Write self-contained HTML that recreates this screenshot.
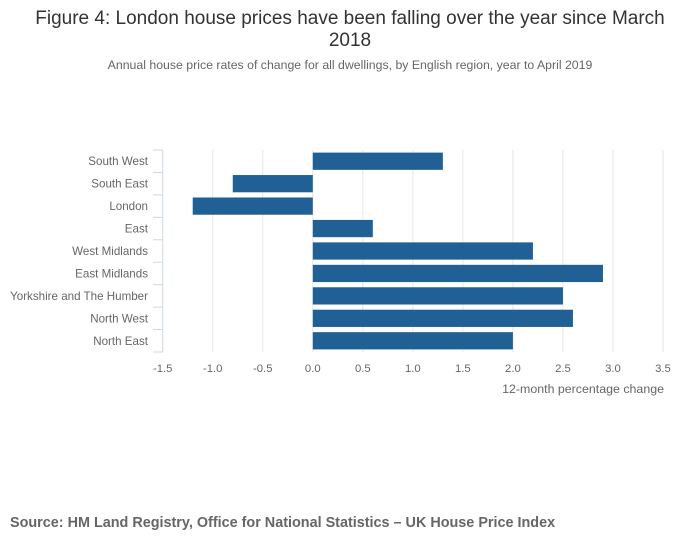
<!DOCTYPE html>
<html><head><meta charset="utf-8"><style>
body{margin:0;background:#fff;width:700px;height:549px;overflow:hidden;font-family:"Liberation Sans",sans-serif}
</style></head><body>
<svg width="700" height="549" id="c" style="font-family:'Liberation Sans',sans-serif">
<text x="350" y="24" text-anchor="middle" font-size="19" fill="#333">Figure 4: London house prices have been falling over the year since March</text>
<text x="350" y="46" text-anchor="middle" font-size="19" fill="#333">2018</text>
<text x="350" y="69" text-anchor="middle" font-size="12.3" fill="#666">Annual house price rates of change for all dwellings, by English region, year to April 2019</text>
<g id="grid"></g><g id="bars"></g><g id="axes"></g>
<text x="664" y="393" text-anchor="end" font-size="12.4" fill="#666">12-month percentage change</text>
<text x="10" y="527" font-size="14.4" font-weight="bold" fill="#666">Source: HM Land Registry, Office for National Statistics – UK House Price Index</text>
</svg>
<script>
const categories=["South West","South East","London","East","West Midlands","East Midlands","Yorkshire and The Humber","North West","North East"];
const values=[1.3,-0.8,-1.2,0.6,2.2,2.9,2.5,2.6,2.0];
const ticks=[-1.5,-1.0,-0.5,0.0,0.5,1.0,1.5,2.0,2.5,3.0,3.5];
const NS="http://www.w3.org/2000/svg";
const x0=162.7,x1=663,plotTop=150,plotBot=352;
const xs=v=>x0+(v-ticks[0])/(ticks[ticks.length-1]-ticks[0])*(x1-x0);
const band=(plotBot-plotTop)/categories.length;
function mk(t,a,p){const e=document.createElementNS(NS,t);for(const k in a)e.setAttribute(k,a[k]);p.appendChild(e);return e;}
const g=document.getElementById('grid'),b=document.getElementById('bars'),ax=document.getElementById('axes');
ticks.forEach((t,i)=>{
 if(i>0){const l=mk('line',{x1:xs(t),x2:xs(t),y1:plotTop,y2:plotBot,stroke:'#e6e6e6','stroke-width':1},g);
 
 }
 const tx=mk('text',{x:xs(t),y:372,'text-anchor':'middle','font-size':11.3,fill:'#666'},ax);
 tx.textContent=t.toFixed(1);
 
 
});
categories.forEach((c,i)=>{
 const v=values[i];
 const r=mk('rect',{x:Math.min(xs(0),xs(v)),y:plotTop+i*band+2.6,width:Math.abs(xs(v)-xs(0)),height:band-5.2,fill:'#206095'},b);
 
 
 const t=mk('text',{x:148,y:plotTop+i*band+band/2+4,'text-anchor':'end','font-size':11.6,fill:'#666'},ax);
 t.textContent=c;
 
 
});
for(let i=0;i<=categories.length;i++){
 const y=plotTop+i*band;
 const tk=mk('line',{x1:153,x2:x0,y1:y,y2:y,stroke:'#ccd6eb','stroke-width':1},ax);
 
 
}
const al=mk('line',{x1:x0,x2:x0,y1:plotTop,y2:plotBot,stroke:'#ccd6eb','stroke-width':1},ax);


</script>
</body></html>
